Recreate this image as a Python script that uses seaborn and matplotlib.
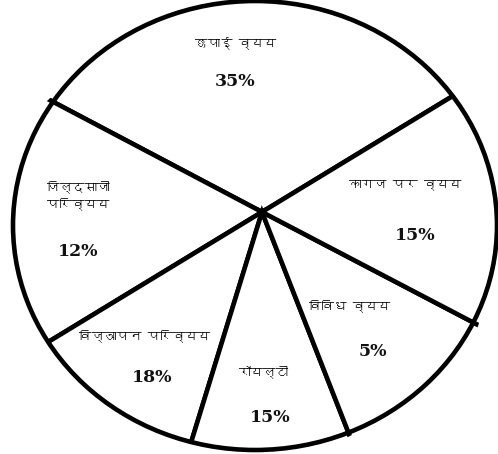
import matplotlib
matplotlib.use("Agg")
import matplotlib.pyplot as plt
import seaborn as sns
from matplotlib.patches import Ellipse, PathPatch
from matplotlib.path import Path
from matplotlib import font_manager
from matplotlib.ft2font import FT2Font

# ---- data ----
categories = ["छपाई व्यय", "जिल्दसाजी\nपरिव्यय", "विज्ञापन परिव्यय", "रॉयल्टी", "विविध व्यय", "कागज पर व्यय"]
percent_labels = [35, 12, 18, 15, 5, 15]
# wedge angles as drawn in the picture (degrees), counter-clockwise from the printing wedge
drawn_angles = [120.9, 59.1, 41.6, 38.5, 41.0, 58.9]

sns.set_theme(style="white")

# find a font with Devanagari glyphs, if any
deva = None
for f in font_manager.fontManager.ttflist:
    try:
        if 0x0915 in FT2Font(f.fname).get_charmap():
            deva = f.name
            break
    except Exception:
        pass
hindi_family = [deva, "DejaVu Sans"] if deva else ["DejaVu Sans"]
plt.rcParams["font.family"] = hindi_family

W, H = 498, 454
fig = plt.figure(figsize=(W / 100, H / 100), dpi=100)
ax = fig.add_axes([0, 0, 1, 1])

hub = (262, H - 212)
ell_c, ell_w, ell_h = (255, H - 225.5), 484, 449
wedges, _ = ax.pie(drawn_angles, startangle=31.3, counterclock=True, center=hub, radius=400,
                   wedgeprops=dict(facecolor="white", edgecolor="black", linewidth=3.3, zorder=1))

# white mask outside the ellipse (hides the spoke ends beyond the rim)
ell_path = Ellipse(ell_c, ell_w, ell_h).get_patch_transform().transform_path(Path.unit_circle())
rect = Path([(-50, -50), (W + 50, -50), (W + 50, H + 50), (-50, H + 50), (-50, -50)],
            [Path.MOVETO, Path.LINETO, Path.LINETO, Path.LINETO, Path.CLOSEPOLY])
inner = Path(ell_path.vertices[::-1], ell_path.codes)
mask = Path.make_compound_path(rect, inner)
ax.add_patch(PathPatch(mask, facecolor="white", edgecolor="none", zorder=2))
ax.add_patch(Ellipse(ell_c, ell_w, ell_h, fill=False, edgecolor="black", linewidth=3.3, zorder=3))

ax.set_xlim(0, W)
ax.set_ylim(0, H)
ax.set_aspect("auto")
ax.axis("off")

# label positions (pixel coords from top-left)
name_pos = [(236, 43, "center"), (47, 195, "left"), (145, 336, "center"),
            (263, 372, "center"), (350, 306, "center"), (405, 185, "center")]
pct_pos = [(235, 82), (78, 252), (152, 377), (270, 418), (373, 352), (415, 236)]

for name, (x, y, ha), p, (px, py) in zip(categories, name_pos, percent_labels, pct_pos):
    ax.text(x, H - y, name, ha=ha, va="center", fontsize=9, color="black",
            family=hindi_family, linespacing=1.35, zorder=4)
    ax.text(px, H - py, f"{p}%", ha="center", va="center", fontsize=12.5,
            fontweight="bold", family=["DejaVu Serif"], color="#111111", zorder=4)

fig.savefig("out.png", dpi=100)
